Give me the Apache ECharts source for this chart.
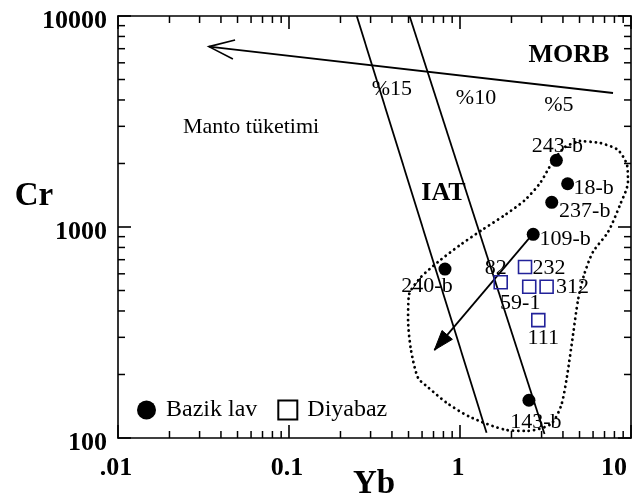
<!DOCTYPE html>
<html><head><meta charset="utf-8">
<script src="https://cdn.jsdelivr.net/npm/echarts@6/dist/echarts.min.js"></script>
<style>html,body{margin:0;padding:0;background:#fff}#c{width:642px;height:501px}</style>
</head><body><div id="c"></div>
<script>
// ---------- data ----------
const xTickLabels = ['.01', '0.1', '1', '10'];
const yTickLabels = ['100', '1000', '10000'];
const xMinorTicks = [0.02,0.03,0.04,0.05,0.06,0.07,0.08,0.09,0.2,0.3,0.4,0.5,0.6,0.7,0.8,0.9,2,3,4,5,6,7,8,9];
const yMinorTicks = [200,300,400,500,600,700,800,900,2000,3000,4000,5000,6000,7000,8000,9000];

const bazikNames = ['243-b', '18-b', '237-b', '109-b', '240-b', '143-b'];
const bazikYb    = [3.66, 4.26, 3.44, 2.68, 0.817, 2.53];
const bazikCr    = [2070, 1603, 1309, 923, 632, 151];

const diyabazNames = ['232', '82', '59-1', '312', '111'];
const diyabazYb    = [2.40, 1.73, 2.54, 3.21, 2.87];
const diyabazCr    = [646, 547, 521, 521, 362];

const iat15Yb = [0.249, 1.43];
const iat15Cr = [10000, 106];
const iat10Yb = [0.507, 3.12];
const iat10Cr = [10000, 104.5];

const morbArrowYb = [7.85, 0.034];
const morbArrowCr = [4315, 7160];
const trendArrowYb = [2.6, 0.708];
const trendArrowCr = [905, 261];

const envelopeYb = [5.03, 6.59, 8.39, 9.48, 9.60, 8.62, 7.34, 5.99, 5.31, 4.90, 4.58, 4.22, 3.90, 3.40, 2.47, 1.88, 1.14, 0.839, 0.650, 0.568, 0.517, 0.497, 0.503, 0.584, 0.744, 1.00, 1.345, 1.83, 2.40, 2.94, 3.45, 4.11, 5.03];
const envelopeCr = [2556, 2501, 2317, 1967, 1634, 1272, 947, 761, 592, 451, 308, 195, 142, 116.5, 108, 109, 126, 146.5, 174, 193, 261, 362, 476, 573, 683, 821, 968, 1140, 1343, 1616, 2011, 2394, 2556];

const annotTexts = ['MORB', '%15', '%10', '%5', 'Manto tüketimi', 'IAT'];
const annotYb    = [4.34, 0.400, 1.24, 3.79, 0.060, 0.801];
const annotCr    = [6535, 4508, 4088, 3787, 2978, 1449];

// ---------- styles (kept apart from data) ----------
const FONT = "'Liberation Serif','Times New Roman',serif";
const bazikLabelOffsets   = [[1,-14],[26,4],[33,9],[32,5],[-18,17],[7,22]];
const diyabazLabelOffsets = [[24,1],[-5,-14],[-9,16],[26,0],[5,18]];
const annotBold = [true, false, false, false, false, true];

function fmtLog(labels, base){
  return function(v){
    const l = Math.log10(v); const e = Math.round(l);
    if (Math.abs(l - e) > 1e-6) return '';
    const s = labels[e - base]; return s === undefined ? '' : s;
  };
}
const axisLineStyle = {color:'#000', width:1.6};
const tickStyle = {stroke:'#000', lineWidth:1.5};

function minorXRender(params, api){
  const v = api.value(0);
  const b = api.coord([v, 100]); const t = api.coord([v, 10000]);
  return {type:'group', children:[
    {type:'line', shape:{x1:b[0],y1:b[1],x2:b[0],y2:b[1]-7}, style:tickStyle},
    {type:'line', shape:{x1:t[0],y1:t[1],x2:t[0],y2:t[1]+7}, style:tickStyle}]};
}
function minorYRender(params, api){
  const v = api.value(1);
  const l = api.coord([0.01, v]); const r = api.coord([10, v]);
  return {type:'group', children:[
    {type:'line', shape:{x1:l[0],y1:l[1],x2:l[0]+7,y2:l[1]}, style:tickStyle},
    {type:'line', shape:{x1:r[0],y1:r[1],x2:r[0]-7,y2:r[1]}, style:tickStyle}]};
}
function arrowRender(kind){
  return function(params, api){
    const a = api.coord([api.value(0), api.value(1)]);
    const b = api.coord([api.value(2), api.value(3)]);
    const ang = Math.atan2(a[1]-b[1], a[0]-b[0]);
    const L = kind === 'open' ? 27 : 21;
    const h = kind === 'open' ? 0.36 : 0.33;
    const p1 = [b[0] + L*Math.cos(ang-h), b[1] + L*Math.sin(ang-h)];
    const p2 = [b[0] + L*Math.cos(ang+h), b[1] + L*Math.sin(ang+h)];
    const children = [{type:'line', shape:{x1:a[0],y1:a[1],x2:b[0],y2:b[1]}, style:{stroke:'#000', lineWidth:1.8}}];
    if (kind === 'open') {
      children.push({type:'polyline', shape:{points:[p1,b,p2]}, style:{stroke:'#000', lineWidth:1.6, fill:null}});
    } else {
      children.push({type:'polygon', shape:{points:[b,p1,p2]}, style:{fill:'#000', stroke:'#000', lineWidth:1}});
    }
    return {type:'group', children};
  };
}

const xAxisBase = {
  type:'log', logBase:10, min:0.01, max:10,
  axisLine:{show:true, onZero:false, lineStyle:axisLineStyle},
  axisTick:{show:true, inside:true, length:13, lineStyle:{color:'#000', width:1.6}},
  splitLine:{show:false}, minorTick:{show:false}, minorSplitLine:{show:false}
};
const yAxisBase = {
  type:'log', logBase:10, min:100, max:10000,
  axisLine:{show:true, onZero:false, lineStyle:axisLineStyle},
  axisTick:{show:true, inside:true, length:13, lineStyle:{color:'#000', width:1.6}},
  splitLine:{show:false}, minorTick:{show:false}, minorSplitLine:{show:false}
};

const option = {
  animation:false,
  backgroundColor:'#fff',
  grid:{left:118, right:11, top:16, bottom:63, containLabel:false},
  xAxis:[
    Object.assign({}, xAxisBase, {position:'bottom',
      axisLabel:{show:true, margin:17, fontFamily:FONT, fontWeight:'bold', fontSize:26, color:'#000',
        formatter:fmtLog(xTickLabels, -2), padding:[0,4,0,0], alignMaxLabel:'right', showMinLabel:true, showMaxLabel:true}}),
    Object.assign({}, xAxisBase, {position:'top', axisLabel:{show:false}})
  ],
  yAxis:[
    Object.assign({}, yAxisBase, {position:'left',
      axisLabel:{show:true, margin:11, fontFamily:FONT, fontWeight:'bold', fontSize:26, color:'#000',
        formatter:fmtLog(yTickLabels, 2), verticalAlign:'top', lineHeight:10, showMinLabel:true, showMaxLabel:true}}),
    Object.assign({}, yAxisBase, {position:'right', axisLabel:{show:false}})
  ],
  legend:{
    left:132, top:393, orient:'horizontal', itemWidth:19, itemHeight:19, itemGap:20,
    selectedMode:false,
    textStyle:{fontFamily:FONT, fontSize:24, color:'#000', padding:[0,0,0,5]},
    data:[
      {name:'Bazik lav', icon:'circle', itemStyle:{color:'#000', opacity:1}},
      {name:'Diyabaz', icon:'rect', itemStyle:{color:'#fff', borderColor:'#000', borderWidth:2, opacity:1}}
    ]
  },
  graphic:[
    {type:'text', x:34, y:196, style:{text:'Cr', fontFamily:FONT, fontWeight:'bold', fontSize:33, fill:'#000', align:'center', verticalAlign:'middle'}},
    {type:'text', x:374, y:484, style:{text:'Yb', fontFamily:FONT, fontWeight:'bold', fontSize:33, fill:'#000', align:'center', verticalAlign:'middle'}}
  ],
  series:[
    {type:'custom', name:'xminor', coordinateSystem:'cartesian2d', silent:true, clip:false,
     data:xMinorTicks.map(v => [v, 100]), encode:{x:0, y:1}, renderItem:minorXRender, z:1},
    {type:'custom', name:'yminor', coordinateSystem:'cartesian2d', silent:true, clip:false,
     data:yMinorTicks.map(v => [0.01, v]), encode:{x:0, y:1}, renderItem:minorYRender, z:1},
    {type:'line', name:'IAT15', data:iat15Yb.map((x,i)=>[x, iat15Cr[i]]), symbol:'none', silent:true,
     lineStyle:{color:'#000', width:1.8}, z:2},
    {type:'line', name:'IAT10', data:iat10Yb.map((x,i)=>[x, iat10Cr[i]]), symbol:'none', silent:true,
     lineStyle:{color:'#000', width:1.8}, z:2},
    {type:'line', name:'envelope', data:envelopeYb.map((x,i)=>[x, envelopeCr[i]]), symbol:'none', silent:true,
     smooth:0.25, lineStyle:{color:'#000', width:2.8, type:[0.1, 5.2], cap:'round'}, z:2},
    {type:'custom', name:'morbArrow', coordinateSystem:'cartesian2d', silent:true,
     data:[[morbArrowYb[0], morbArrowCr[0], morbArrowYb[1], morbArrowCr[1]]], encode:{x:[0,2], y:[1,3]},
     renderItem:arrowRender('open'), z:2},
    {type:'custom', name:'trendArrow', coordinateSystem:'cartesian2d', silent:true,
     data:[[trendArrowYb[0], trendArrowCr[0], trendArrowYb[1], trendArrowCr[1]]], encode:{x:[0,2], y:[1,3]},
     renderItem:arrowRender('filled'), z:2},
    {type:'scatter', name:'annot', silent:true, symbolSize:0.1, itemStyle:{color:'rgba(0,0,0,0)', opacity:1},
     data:annotTexts.map((t,i)=>({name:t, value:[annotYb[i], annotCr[i]],
       label:{show:true, position:'inside', formatter:'{b}', color:'#000', opacity:1, fontFamily:FONT,
              fontWeight:annotBold[i]?'bold':'normal', fontSize:annotBold[i]?26:22}})), z:3},
    {type:'scatter', name:'Bazik lav', symbol:'circle', symbolSize:13, itemStyle:{color:'#000', opacity:1},
     data:bazikNames.map((n,i)=>({name:n, value:[bazikYb[i], bazikCr[i]],
       label:{show:true, position:'inside', offset:bazikLabelOffsets[i], formatter:'{b}', color:'#000', opacity:1,
              fontFamily:FONT, fontSize:22}})), z:5},
    {type:'scatter', name:'Diyabaz', symbol:'rect', symbolSize:13,
     itemStyle:{color:'rgba(255,255,255,0)', borderColor:'#22229a', borderWidth:1.6, opacity:1},
     data:diyabazNames.map((n,i)=>({name:n, value:[diyabazYb[i], diyabazCr[i]],
       label:{show:true, position:'inside', offset:diyabazLabelOffsets[i], formatter:'{b}', color:'#000', opacity:1,
              fontFamily:FONT, fontSize:22}})), z:5}
  ]
};
const chart = echarts.init(document.getElementById('c'));
chart.setOption(option);
</script></body></html>
